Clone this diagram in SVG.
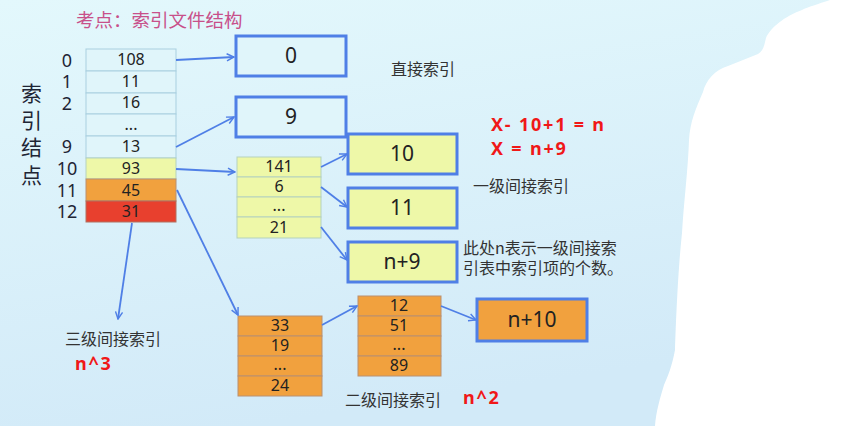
<svg xmlns="http://www.w3.org/2000/svg" width="842" height="426" viewBox="0 0 842 426">
<defs>
<linearGradient id="bg" x1="0" y1="0" x2="0.3" y2="1">
<stop offset="0" stop-color="#e3f8fc"/>
<stop offset="1" stop-color="#d2eaf8"/>
</linearGradient>
<marker id="ah" viewBox="0 0 10 10" refX="9" refY="5" markerWidth="9" markerHeight="9" markerUnits="userSpaceOnUse" orient="auto">
<path d="M1,1 L9,5 L1,9" fill="none" stroke="#4f7fe6" stroke-width="1.6"/>
</marker>
</defs>
<style>
text{font-family:"Noto Sans","Noto Sans CJK SC",sans-serif;fill:#222}
.cjk{font-family:"Noto Sans CJK SC",sans-serif;font-size:16px;fill:#333}
.vert{font-family:"Noto Sans CJK SC",sans-serif;font-size:21px;fill:#1e2535}
.num{font-size:16px;text-anchor:middle}
.big{font-size:21px;text-anchor:middle}
.lbl{font-size:18px;text-anchor:middle;fill:#1e2535}
.red{font-family:"Noto Sans","Noto Sans CJK SC",sans-serif;font-weight:bold;font-size:18px;letter-spacing:1.8px;fill:#f01818}
.cb{fill:#e0f5fa;stroke:#a9cfe0;stroke-width:1}
.cy{fill:#eef8a8;stroke:#b5d2bd;stroke-width:1}
.co{fill:#f1a13e;stroke:#b99070;stroke-width:1}
.cr{fill:#e8402e;stroke:#b07060;stroke-width:1}
.bx{stroke:#4f7fe6;stroke-width:3}
.conn path{fill:none;stroke:#4f7fe6;stroke-width:1.8;marker-end:url(#ah)}
</style>
<rect width="842" height="426" fill="url(#bg)"/>
<text x="76" y="27" style="font-family:'Noto Sans CJK SC',sans-serif;font-size:18.5px;fill:#c8508a">考点：索引文件结构</text>

<g id="index-node">
<text x="21" y="101" class="vert">索</text>
<text x="21" y="128" class="vert">引</text>
<text x="21" y="155" class="vert">结</text>
<text x="21" y="183" class="vert">点</text>
<text x="67" y="67" class="lbl">0</text>
<text x="67" y="88" class="lbl">1</text>
<text x="67" y="110" class="lbl">2</text>
<text x="67" y="153" class="lbl">9</text>
<text x="67" y="175" class="lbl">10</text>
<text x="67" y="197" class="lbl">11</text>
<text x="67" y="218" class="lbl">12</text>
<rect x="86" y="49" width="90" height="22" class="cb"/>
<rect x="86" y="71" width="90" height="22" class="cb"/>
<rect x="86" y="93" width="90" height="21" class="cb"/>
<rect x="86" y="114" width="90" height="22" class="cb"/>
<rect x="86" y="136" width="90" height="22" class="cb"/>
<rect x="86" y="158" width="90" height="21" class="cy"/>
<rect x="86" y="179" width="90" height="22" class="co"/>
<rect x="86" y="201" width="90" height="21" class="cr"/>
<text x="131" y="65" class="num">108</text>
<text x="131" y="87" class="num">11</text>
<text x="131" y="108" class="num">16</text>
<text x="131" y="130" class="num">...</text>
<text x="131" y="152" class="num">13</text>
<text x="131" y="174" class="num">93</text>
<text x="131" y="196" class="num">45</text>
<text x="131" y="217" class="num">31</text>
</g>

<g id="box-0"><rect x="236" y="36" width="110" height="40" fill="#e0f5fa" class="bx"/><text x="291" y="63" class="big">0</text></g>
<g id="box-9"><rect x="236" y="97" width="110" height="40" fill="#e0f5fa" class="bx"/><text x="291" y="124" class="big">9</text></g>
<g id="box-10"><rect x="348" y="134" width="109" height="40" fill="#eef8a8" class="bx"/><text x="402" y="161" class="big">10</text></g>
<g id="box-11"><rect x="348" y="188" width="109" height="40" fill="#eef8a8" class="bx"/><text x="402" y="215" class="big">11</text></g>
<g id="box-n9"><rect x="348" y="242" width="109" height="40" fill="#eef8a8" class="bx"/><text x="402" y="269" class="big">n+9</text></g>
<g id="box-n10"><rect x="477" y="299" width="110" height="42" fill="#f1a13e" class="bx"/><text x="532" y="327" class="big">n+10</text></g>

<g id="level1-table">
<rect x="237" y="157" width="84" height="20" class="cy"/>
<rect x="237" y="177" width="84" height="20" class="cy"/>
<rect x="237" y="197" width="84" height="20" class="cy"/>
<rect x="237" y="217" width="84" height="21" class="cy"/>
<text x="279" y="172" class="num">141</text>
<text x="279" y="192" class="num">6</text>
<text x="279" y="211" class="num">...</text>
<text x="279" y="233" class="num">21</text>
</g>

<g id="level2-table-a">
<rect x="238" y="316" width="84" height="20" class="co"/>
<rect x="238" y="336" width="84" height="20" class="co"/>
<rect x="238" y="356" width="84" height="20" class="co"/>
<rect x="238" y="376" width="84" height="20" class="co"/>
<text x="280" y="331" class="num">33</text>
<text x="280" y="351" class="num">19</text>
<text x="280" y="370" class="num">...</text>
<text x="280" y="391" class="num">24</text>
</g>

<g id="level2-table-b">
<rect x="358" y="296" width="83" height="20" class="co"/>
<rect x="358" y="316" width="83" height="20" class="co"/>
<rect x="358" y="336" width="83" height="20" class="co"/>
<rect x="358" y="356" width="83" height="20" class="co"/>
<text x="399" y="311" class="num">12</text>
<text x="399" y="331" class="num">51</text>
<text x="399" y="350" class="num">...</text>
<text x="399" y="371" class="num">89</text>
</g>

<g id="labels">
<text x="391" y="75" class="cjk">直接索引</text>
<text x="473" y="192" class="cjk">一级间接索引</text>
<text x="463" y="254" class="cjk">此处n表示一级间接索</text>
<text x="463" y="274" class="cjk">引表中索引项的个数。</text>
<text x="65" y="345" class="cjk">三级间接索引</text>
<text x="345" y="406" class="cjk">二级间接索引</text>
<text x="491" y="131" class="red">X- 10+1 = n</text>
<text x="491" y="155" class="red">X = n+9</text>
<text x="75" y="370" class="red">n^3</text>
<text x="463" y="404" class="red">n^2</text>
</g>

<g id="connectors" class="conn">
<path d="M176,60 L234,57"/>
<path d="M176,147 L234,117"/>
<path d="M176,169 L235,172"/>
<path d="M177,190 L238,315"/>
<path d="M132,223 L118,319"/>
<path d="M321,167 L347,154"/>
<path d="M321,187 L347,207"/>
<path d="M321,227 L347,260"/>
<path d="M322,325 L357,306"/>
<path d="M441,306 L476,320"/>
</g>

<path d="M830,0 C818,4 808,7 802,10 C785,16 770,28 766,38 C764,46 764,50 758,54 C748,58 738,62 728,66 C715,70 706,80 703,92 C696,108 690,122 689,140 C688,170 684,200 682,233 C678,270 676,320 675,350 C672,366 668,376 664,385 C660,398 656,412 655,426 L842,426 L842,0 Z" fill="#ffffff"/>
</svg>
